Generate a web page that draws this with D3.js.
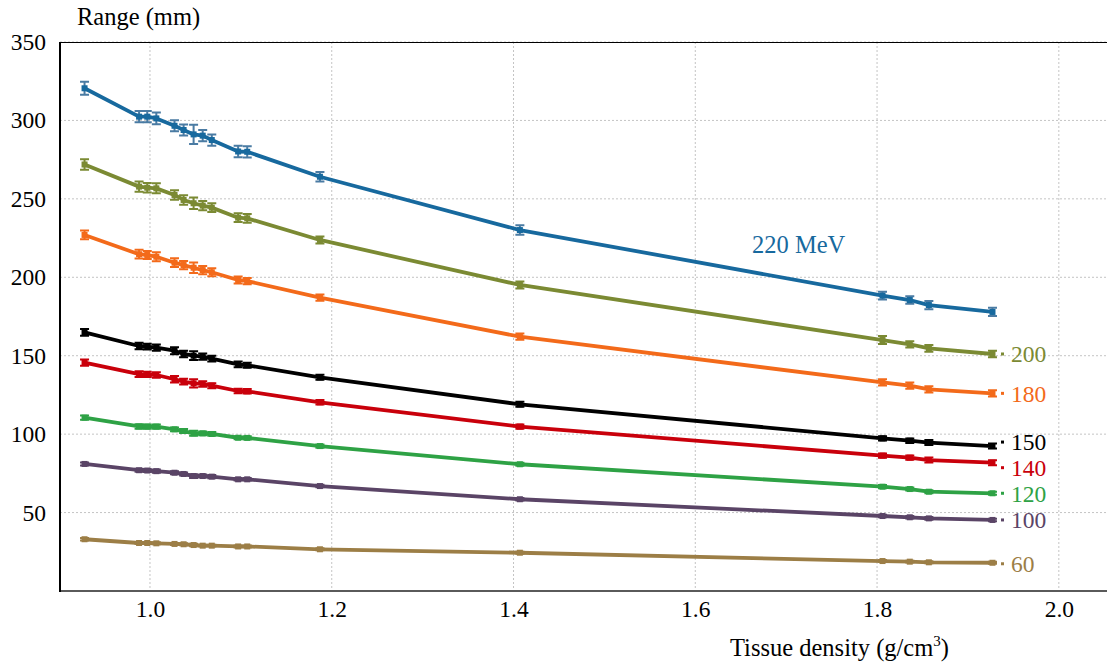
<!DOCTYPE html>
<html>
<head>
<meta charset="utf-8">
<script src="https://cdn.jsdelivr.net/npm/d3@7"></script>
<style>
  body { margin: 0; background: #fff; }
</style>
</head>
<body>
<script>
var density = [0.928, 0.988, 0.997, 1.007, 1.027, 1.037, 1.048, 1.058, 1.068, 1.097, 1.107, 1.187, 1.407, 1.806, 1.836, 1.857, 1.927];

var energies = ["220 MeV", "200", "180", "150", "140", "120", "100", "60"];

var r220 = [320.5, 302.4, 302.4, 301.3, 296.6, 293.9, 291.1, 290.3, 287.5, 280.2, 280.0, 264.1, 230.1, 188.3, 185.5, 182.3, 177.9];
var r200 = [271.9, 257.8, 257.1, 256.7, 252.5, 249.3, 247.2, 245.7, 244.4, 238.0, 237.6, 223.8, 195.1, 160.0, 157.3, 154.7, 151.1];
var r180 = [227.0, 214.7, 214.2, 213.1, 209.3, 207.8, 206.1, 204.6, 203.2, 198.3, 197.6, 187.0, 162.1, 133.0, 130.9, 128.6, 126.0];
var r150 = [164.9, 156.2, 155.8, 155.1, 153.2, 151.1, 150.0, 149.4, 148.1, 144.5, 143.9, 136.2, 119.0, 97.3, 95.8, 94.6, 92.4];
var r140 = [145.6, 138.3, 138.1, 137.7, 135.0, 133.5, 132.4, 132.0, 130.9, 127.5, 127.3, 120.3, 104.8, 86.3, 85.0, 83.5, 81.8];
var r120 = [110.5, 104.9, 104.8, 104.8, 103.1, 102.0, 100.5, 100.5, 100.1, 97.7, 97.6, 92.4, 80.8, 66.5, 65.0, 63.3, 62.3];
var r100 = [81.0, 77.0, 76.8, 76.4, 75.4, 74.6, 73.3, 73.3, 72.9, 71.2, 71.2, 66.9, 58.5, 47.8, 47.0, 46.3, 45.3];
var r60 = [33.0, 30.6, 30.6, 30.4, 30.0, 29.8, 29.3, 28.9, 28.9, 28.4, 28.4, 26.6, 24.4, 19.1, 18.7, 18.3, 18.0];

// error bar half-heights (mm)
var e220 = [4.2, 3.6, 3.6, 3.8, 3.5, 3.5, 6.2, 3.6, 3.6, 3.6, 3.6, 3.0, 3.0, 2.4, 2.4, 2.6, 2.6];
var e200 = [3.4, 3.2, 3.0, 3.2, 3.0, 3.0, 3.6, 3.0, 2.8, 2.8, 2.8, 2.2, 2.2, 2.6, 2.0, 2.2, 2.0];
var e180 = [2.8, 2.8, 2.6, 2.8, 2.8, 2.6, 3.4, 2.6, 2.6, 2.2, 2.0, 2.0, 2.0, 2.0, 2.0, 2.0, 2.0];
var e150 = [2.2, 2.0, 1.8, 2.0, 2.2, 2.0, 2.8, 2.0, 1.8, 1.8, 1.6, 1.6, 1.6, 1.4, 1.4, 1.6, 1.6];
var e140 = [2.0, 1.8, 1.6, 1.8, 2.0, 1.8, 2.6, 1.8, 1.6, 1.4, 1.4, 1.4, 1.4, 1.4, 1.4, 1.6, 1.6];
var e120 = [1.4, 1.4, 1.4, 1.4, 1.2, 1.2, 1.6, 1.2, 1.2, 1.0, 1.0, 1.0, 1.0, 1.0, 1.0, 1.0, 1.0];
var e100 = [1.0, 1.0, 1.0, 1.0, 1.0, 1.0, 1.2, 1.0, 1.0, 0.8, 0.8, 0.8, 0.8, 0.8, 0.8, 0.8, 0.8];
var e60 = [0.8, 0.6, 0.6, 0.6, 0.6, 0.6, 0.8, 0.6, 0.6, 0.6, 0.6, 0.6, 0.6, 0.6, 0.6, 0.6, 0.6];

var xTicks = [1.0, 1.2, 1.4, 1.6, 1.8, 2.0];
var yTicks = [50, 100, 150, 200, 250, 300, 350];

var ranges = [r220, r200, r180, r150, r140, r120, r100, r60];
var errors = [e220, e200, e180, e150, e140, e120, e100, e60];
var colors = ["#17699e", "#7b8a33", "#f36a1a", "#000000", "#c9000b", "#2ea245", "#5a4466", "#9c7e46"];
var barColors = ["#4a7ba3", "#7b8a33", "#f36a1a", "#000000", "#c9000b", "#2ea245", "#5a4466", "#9c7e46"];
var labelShift = [0, 0, 0, -4, 5, 0, 0, 1];

var serif = "Liberation Serif";
var W = 1107, H = 664;
var pLeft = 60, pRight = 1107, pTop = 42, pBottom = 591;

var x = d3.scaleLinear().domain([0.901, 2.053]).range([pLeft, pRight]);
var y = d3.scaleLinear().domain([0, 350]).range([pBottom, pTop]);

var svg = d3.select("body").append("svg")
    .attr("width", W)
    .attr("height", H);

// grid
svg.append("g").selectAll("line")
    .data(xTicks)
  .enter().append("line")
    .attr("x1", function(d) { return x(d); })
    .attr("x2", function(d) { return x(d); })
    .attr("y1", pTop)
    .attr("y2", pBottom)
    .attr("stroke", "#c4c4c4")
    .attr("stroke-width", 1)
    .attr("stroke-dasharray", "2,2");

svg.append("g").selectAll("line")
    .data(yTicks)
  .enter().append("line")
    .attr("x1", pLeft)
    .attr("x2", pRight)
    .attr("y1", function(d) { return y(d); })
    .attr("y2", function(d) { return y(d); })
    .attr("stroke", "#c4c4c4")
    .attr("stroke-width", 1)
    .attr("stroke-dasharray", "2,2");

// frame
svg.append("line")
    .attr("x1", pLeft).attr("x2", pRight)
    .attr("y1", pTop + 0.5).attr("y2", pTop + 0.5)
    .attr("stroke", "#000").attr("stroke-width", 1);

// axes
var xAxis = svg.append("g")
    .attr("transform", "translate(0," + pBottom + ")")
    .call(d3.axisBottom(x).tickValues(xTicks).tickSize(0).tickPadding(9)
      .tickFormat(d3.format(".1f")));
xAxis.select(".domain").attr("stroke", "#5a5a5a").attr("stroke-width", 2).attr("d", "M" + pLeft + ",0H" + pRight);
xAxis.selectAll("text")
    .attr("fill", "#000")
    .attr("font-family", serif)
    .attr("font-size", 23.5);

var yAxis = svg.append("g")
    .attr("transform", "translate(" + pLeft + ",0)")
    .call(d3.axisLeft(y).tickValues(yTicks).tickSize(0).tickPadding(14));
yAxis.select(".domain").attr("stroke", "#000").attr("stroke-width", 2).attr("d", "M0," + pTop + "V" + (pBottom + 1));
yAxis.selectAll("text")
    .attr("fill", "#000")
    .attr("font-family", serif)
    .attr("font-size", 23.5);

svg.append("text")
    .attr("x", 77).attr("y", 25)
    .attr("font-family", serif)
    .attr("font-size", 24.5)
    .text("Range (mm)");

var xt = svg.append("text")
    .attr("x", 730).attr("y", 656)
    .attr("font-family", serif)
    .attr("font-size", 24.5)
    .text("Tissue density (g/cm");
xt.append("tspan").attr("font-size", 15).attr("dy", -10).text("3");
xt.append("tspan").attr("dy", 10).text(")");

// series
var line = d3.line()
    .x(function(d) { return x(d[0]); })
    .y(function(d) { return y(d[1]); });

ranges.forEach(function(r, i) {
  var pts = density.map(function(d, j) { return [d, r[j], errors[i][j]]; });
  var g = svg.append("g");

  g.append("path")
      .datum(pts)
      .attr("d", line)
      .attr("fill", "none")
      .attr("stroke", colors[i])
      .attr("stroke-width", 3.8)
      .attr("stroke-linejoin", "round");

  var bar = g.selectAll(".eb")
      .data(pts)
    .enter().append("g");

  bar.append("path")
      .attr("d", function(d) {
        var cx = x(d[0]), y1 = y(d[1] + d[2]), y2 = y(d[1] - d[2]);
        return "M" + (cx - 4.5) + "," + y1 + "H" + (cx + 4.5) +
               "M" + cx + "," + y1 + "V" + y2 +
               "M" + (cx - 4.5) + "," + y2 + "H" + (cx + 4.5);
      })
      .attr("fill", "none")
      .attr("stroke", barColors[i])
      .attr("stroke-width", 2);

  bar.append("rect")
      .attr("x", function(d) { return x(d[0]) - 3; })
      .attr("y", function(d) { return y(d[1]) - 3; })
      .attr("width", 6)
      .attr("height", 6)
      .attr("fill", colors[i]);

  var last = r[r.length - 1];
  if (i === 0) {
    g.append("text")
        .attr("x", 752).attr("y", 253)
        .attr("font-family", serif)
        .attr("font-size", 24.5)
        .attr("fill", colors[i])
        .text(energies[i]);
  } else {
    g.append("rect")
        .attr("x", 1001).attr("y", y(last) + labelShift[i] - 1.5)
        .attr("width", 3).attr("height", 3)
        .attr("fill", colors[i]);
    g.append("text")
        .attr("x", 1011)
        .attr("y", y(last) + labelShift[i])
        .attr("dy", "0.35em")
        .attr("font-family", serif)
        .attr("font-size", 23.5)
        .attr("fill", colors[i])
        .text(energies[i]);
  }
});
</script>
</body>
</html>
